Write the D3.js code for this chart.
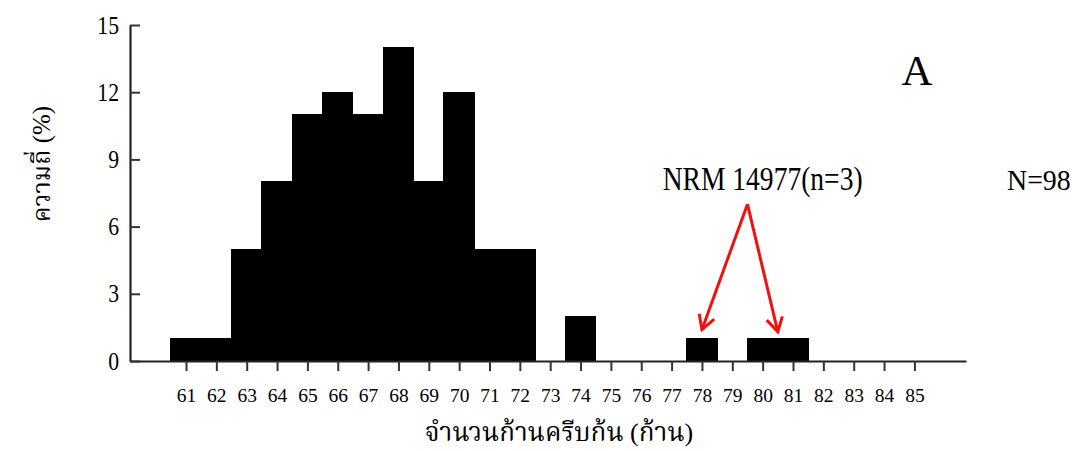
<!DOCTYPE html>
<html>
<head>
<meta charset="utf-8">
<script src="https://cdn.jsdelivr.net/npm/d3@7"></script>
<style>
  html, body { margin: 0; padding: 0; background: #fff; }
  svg { display: block; }
  text { font-family: "Liberation Serif", "Times New Roman", "Noto Serif Thai", "Noto Sans Thai", "DejaVu Serif", serif; fill: #000; }
</style>
</head>
<body>
<svg id="chart" width="1080" height="451"></svg>
<script>
// Fin-ray counts: number of specimens per count (N = 98)
const rayCounts = [61, 62, 63, 64, 65, 66, 67, 68, 69, 70, 71, 72, 73, 74, 75, 76, 77, 78, 79, 80, 81, 82, 83, 84, 85];
const frequency = [1, 1, 5, 8, 11, 12, 11, 14, 8, 12, 5, 5, 0, 2, 0, 0, 0, 1, 0, 1, 1, 0, 0, 0, 0];
const yTickValues = [0, 3, 6, 9, 12, 15];

const xTitle = "จำนวนก้านครีบก้น (ก้าน)";
const yTitle = "ความถี่ (%)";
const panelLabel = "A";
const sampleLabel = "N=98";
const specimenLabel = "NRM 14977(n=3)";
// arrows from the specimen label down to the specimen's bars
const arrowFrom = { ray: 79.5, value: 7 };
const arrowTo = [{ ray: 78, value: 1.4 }, { ray: 80.5, value: 1.3 }];

const svg = d3.select("#chart");

const x = d3.scaleLinear().domain([59.155, 86.7]).range([130, 966]);
const y = d3.scaleLinear().domain([0, 15]).range([361, 25]);

// bars, one unit wide, centred on each count
svg.append("g")
  .attr("shape-rendering", "crispEdges")
  .selectAll("rect")
  .data(rayCounts.map((r, i) => ({ r, v: frequency[i] })).filter(d => d.v > 0))
  .join("rect")
  .attr("x", d => x(d.r - 0.5))
  .attr("width", d => x(d.r + 0.5) - x(d.r - 0.5))
  .attr("y", d => y(d.v))
  .attr("height", d => y(0) - y(d.v))
  .attr("fill", "#000")
  .attr("stroke", "#000")
  .attr("stroke-width", 1);

// x axis
const gx = svg.append("g")
  .attr("transform", `translate(0,${y(0)})`)
  .call(d3.axisBottom(x).tickValues(rayCounts).tickSize(10).tickSizeOuter(0).tickPadding(17).tickFormat(d3.format("d")));
gx.select(".domain").attr("stroke", "#222").attr("stroke-width", 2.2);
gx.selectAll(".tick line").attr("stroke", "#333").attr("stroke-width", 2);
gx.selectAll(".tick text").attr("font-size", 19.5).attr("font-family", null);

// y axis, ticks pointing inward
const gy = svg.append("g")
  .attr("transform", `translate(${x.range()[0]},0)`)
  .call(d3.axisLeft(y).tickValues(yTickValues).tickSize(-10).tickSizeOuter(0).tickPadding(11));
gy.select(".domain").attr("stroke", "#222").attr("stroke-width", 2.2);
gy.selectAll(".tick line").attr("stroke", "#333").attr("stroke-width", 2);
gy.selectAll(".tick text")
  .attr("font-size", 25.5)
  .attr("font-family", null)
  .attr("x", -11 / 0.85)
  .attr("transform", "scale(0.85,1)");

// axis titles
svg.append("text")
  .attr("x", 559).attr("y", 441)
  .attr("text-anchor", "middle")
  .attr("font-size", 26)
  .text(xTitle);

svg.append("text")
  .attr("transform", "translate(50,164) rotate(-90)")
  .attr("text-anchor", "middle")
  .attr("font-size", 25)
  .text(yTitle);

// panel letter and sample size
svg.append("text")
  .attr("x", 917).attr("y", 85)
  .attr("text-anchor", "middle")
  .attr("font-size", 43)
  .text(panelLabel);

svg.append("text")
  .attr("transform", "translate(1007,190) scale(0.93,1)")
  .attr("font-size", 30)
  .text(sampleLabel);

// specimen annotation
svg.append("text")
  .attr("transform", `translate(${x(80)},190) scale(0.84,1)`)
  .attr("text-anchor", "middle")
  .attr("font-size", 32.8)
  .text(specimenLabel);

svg.append("defs").append("marker")
  .attr("id", "arrowhead")
  .attr("markerUnits", "userSpaceOnUse")
  .attr("viewBox", "-16 -10 18 20")
  .attr("refX", 0).attr("refY", 0)
  .attr("markerWidth", 18).attr("markerHeight", 20)
  .attr("orient", "auto")
  .append("path")
  .attr("d", "M-14,-8L0,0L-14,8")
  .attr("fill", "none")
  .attr("stroke", "#f01010")
  .attr("stroke-width", 3)
  .attr("stroke-linejoin", "miter");

svg.append("g")
  .selectAll("line")
  .data(arrowTo)
  .join("line")
  .attr("x1", x(arrowFrom.ray)).attr("y1", y(arrowFrom.value))
  .attr("x2", d => x(d.ray)).attr("y2", d => y(d.value))
  .attr("stroke", "#f01010")
  .attr("stroke-width", 3)
  .attr("marker-end", "url(#arrowhead)");
</script>
</body>
</html>
